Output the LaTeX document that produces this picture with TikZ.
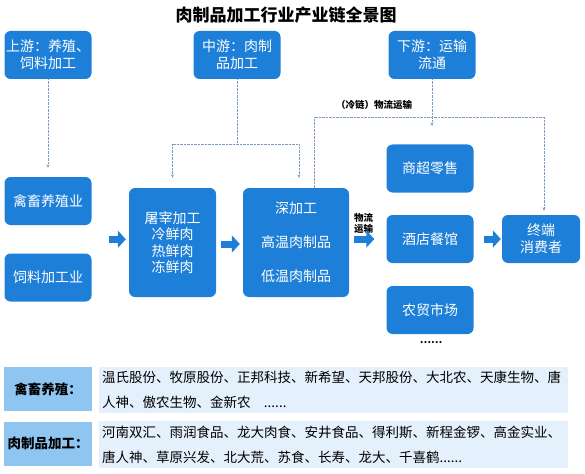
\documentclass[tikz,border=0pt]{standalone}
\usepackage{fontspec}
\setmainfont{Noto Sans CJK SC}
\usetikzlibrary{arrows.meta,calc}
\definecolor{chainblue}{HTML}{1E7FD8}
\definecolor{labelblue}{HTML}{8EC5F1}
\definecolor{listbg}{HTML}{E4F0FB}
\definecolor{dotgrey}{HTML}{7C9CBE}
\tikzset{
  stagebox/.style={fill=chainblue,rounded corners=6pt,text=white,align=center,
    minimum width=87pt,minimum height=48pt,inner sep=1pt,
    font=\fontsize{14}{17}\selectfont},
  dotline/.style={draw=dotgrey,densely dotted,thin},
  dotarrow/.style={dotline,-{Stealth[length=3.5pt,width=3pt]}},
  fatarrow/.style={draw=chainblue,line width=7pt,-{Triangle[length=8pt,width=17pt]}},
  tagbox/.style={fill=labelblue,minimum width=88pt,minimum height=44pt,inner sep=0pt,
    font=\bfseries\fontsize{13.5}{16}\selectfont},
  listbox/.style={fill=listbg,minimum width=469pt,minimum height=46pt,text width=463pt,
    align=left,inner sep=3pt,font=\fontsize{13.5}{25}\selectfont},
  smalllabel/.style={font=\bfseries\fontsize{9.5}{11.5}\selectfont,align=center,inner sep=0pt}
}
\begin{document}
\begin{tikzpicture}[x=1pt,y=-1pt]
  \useasboundingbox (0,0) rectangle (585,473);
  \node[font=\bfseries\fontsize{17}{20}\selectfont] (title) at (286,15) {肉制品加工行业产业链全景图};
  \node[stagebox] (up) at (48,55) {上游：养殖、\\饲料加工};
  \node[stagebox] (mid) at (237,55) {中游：肉制\\品加工};
  \node[stagebox] (down) at (432,55) {下游：运输\\流通};
  \node[stagebox] (breed) at (48,201) {禽畜养殖业};
  \node[stagebox] (feed) at (48,277.5) {饲料加工业};
  \node[stagebox,minimum height=109pt,font=\fontsize{14}{16.5}\selectfont] (slaughter) at (172.5,242.5)
    {屠宰加工\\冷鲜肉\\热鲜肉\\冻鲜肉};
  \node[stagebox,minimum width=106pt,minimum height=109pt] (deep) at (296,242.5)
    {深加工\\[17pt]高温肉制品\\[17pt]低温肉制品};
  \node[stagebox] (retail) at (430,168.5) {商超零售};
  \node[stagebox] (hotel) at (430,239) {酒店餐馆};
  \node[stagebox] (market) at (430,310) {农贸市场};
  \node[font=\bfseries\fontsize{10}{12}\selectfont] (more) at (431,343) {……};
  \node[stagebox,minimum width=78pt] (consumer) at (541,239) {终端\\消费者};
  \node[smalllabel] (logi) at (363.5,223.5) {物流\\运输};
  \node[smalllabel] (cold) at (374,105) {（冷链）物流运输};

  \coordinate (lmid) at ($(breed.south east)!0.5!(feed.north east)$);
  \draw[fatarrow,shorten <=17pt,shorten >=3pt] (lmid) -- (slaughter.west |- lmid);
  \draw[fatarrow,shorten <=5pt,shorten >=3pt] (slaughter.east |- 0,244) -- (deep.west |- 0,244);
  \draw[fatarrow,shorten <=5pt,shorten >=12pt] (deep.east |- hotel) -- (hotel.west);
  \draw[fatarrow,shorten <=10pt,shorten >=1pt] (hotel.east) -- (consumer.west);

  \draw[dotarrow,shorten >=9pt] (up.south) -- (breed.north);
  \coordinate (mj) at (237,144);
  \coordinate (mr) at (299,144);
  \draw[dotline] (mid.south) -- (mj);
  \draw[dotline] (slaughter.north |- mj) -- (mr);
  \draw[dotarrow,shorten >=10pt] (slaughter.north |- mj) -- (slaughter.north);
  \draw[dotarrow,shorten >=10pt] (mr) -- (mr |- deep.north);
  \coordinate (cl) at (314,117);
  \coordinate (cr) at (544,117);
  \draw[dotline] (deep.north -| cl) -- (cl) -- (cr);
  \draw[dotarrow,shorten >=4pt] (cr) -- (cr |- consumer.north);
  \coordinate (dj) at (432,126);
  \draw[dotarrow] (down.south) -- (dj);

  \node[tagbox] (tag1) at (48,389) {禽畜养殖：};
  \node[listbox] (list1) at (333.5,390)
    {温氏股份、牧原股份、正邦科技、新希望、天邦股份、大北农、天康生物、唐\\人神、傲农生物、金新农\ \ \ ......};
  \node[tagbox] (tag2) at (48,443.5) {肉制品加工：};
  \node[listbox,minimum height=47pt] (list2) at (333.5,444.5)
    {河南双汇、雨润食品、龙大肉食、安井食品、得利斯、新程金锣、高金实业、\\唐人神、草原兴发、北大荒、苏食、长寿、龙大、千喜鹤......};
\end{tikzpicture}
\end{document}
